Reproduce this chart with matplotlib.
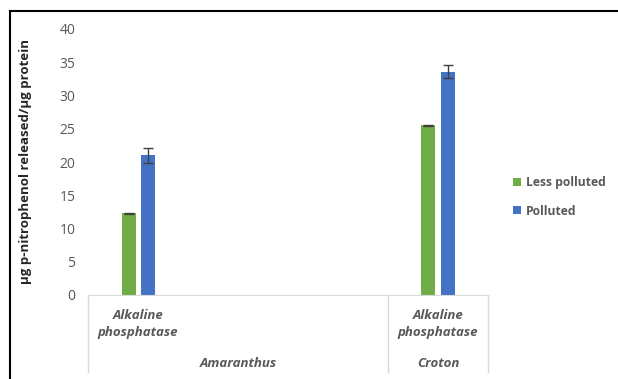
import numpy as np
import matplotlib.pyplot as plt
from matplotlib.lines import Line2D

plt.rcParams['font.family'] = ['Open Sans', 'DejaVu Sans']

# Excel-style two-level category axis: four slots, two of them empty
sub_labels = ["Alkaline\nphosphatase", "", "", "Alkaline\nphosphatase"]
group_labels = ["Amaranthus", "Croton"]
group_slots = [(0, 2), (3, 3)]  # first and last slot of each group

less_polluted = [12.3, np.nan, np.nan, 25.5]
less_err = [0.1, np.nan, np.nan, 0.1]
polluted = [21.0, np.nan, np.nan, 33.6]
polluted_err = [1.1, np.nan, np.nan, 1.0]

GREEN = "#70AD47"
BLUE = "#4472C4"
TEXT = "#595959"
AXIS = "#D9D9D9"

W, H = 618, 379
fig = plt.figure(figsize=(W / 100, H / 100), dpi=100)
ax = fig.add_axes([88 / W, (H - 295) / H, 400 / W, 266 / H])

x = np.arange(len(sub_labels))
bw = 0.14
off = 0.095
err_kw = dict(ecolor="#404040", elinewidth=1.0, capsize=3.5, capthick=1.0)
ax.bar(x - off, less_polluted, bw, yerr=less_err, color=GREEN,
       label="Less polluted", error_kw=err_kw)
ax.bar(x + off, polluted, bw, yerr=polluted_err, color=BLUE,
       label="Polluted", error_kw=err_kw)

ax.set_xlim(-0.5, len(sub_labels) - 0.5)
ax.set_ylim(0, 40)
ax.set_yticks(range(0, 41, 5))
ax.tick_params(axis="y", length=0, pad=9, labelsize=10, labelcolor=TEXT)
ax.set_xticks([])
for s in ["top", "right", "left"]:
    ax.spines[s].set_visible(False)
ax.spines["bottom"].set_color(AXIS)

ax.set_ylabel("µg p-nitrophenol released/µg protein", fontsize=9.5,
              fontweight="bold", color="#262626", labelpad=20)

# category box below the axis
tr = ax.get_xaxis_transform()
box_bottom = -0.29
for xb in [-0.5, 2.5, 3.5]:
    ax.plot([xb, xb], [0, box_bottom], color=AXIS, lw=1,
            transform=tr, clip_on=False)
for xi, lab in zip(x, sub_labels):
    ax.text(xi, -0.11, lab, transform=tr, ha="center", va="center",
            fontsize=9.5, fontstyle="italic", fontweight="bold",
            color=TEXT, linespacing=1.4)
for (a, b), g in zip(group_slots, group_labels):
    ax.text((a + b) / 2, -0.257, g, transform=tr, ha="center", va="center",
            fontsize=9.5, fontstyle="italic", fontweight="bold", color=TEXT)

fig.legend(loc="center left", bbox_to_anchor=(502 / W, 1 - 197 / H),
           frameon=False, handlelength=0.65, handleheight=0.65,
           handletextpad=0.45, labelspacing=1.25,
           prop=dict(size=8.7, weight="bold"), labelcolor=TEXT)

# outer frame (only top and left edges visible)
fig.add_artist(Line2D([10 / W, 1], [1 - 11 / H, 1 - 11 / H], color="black",
                      lw=1.5, transform=fig.transFigure))
fig.add_artist(Line2D([10 / W, 10 / W], [0, 1 - 11 / H], color="black",
                      lw=1.5, transform=fig.transFigure))

fig.savefig("out.png", dpi=100)
